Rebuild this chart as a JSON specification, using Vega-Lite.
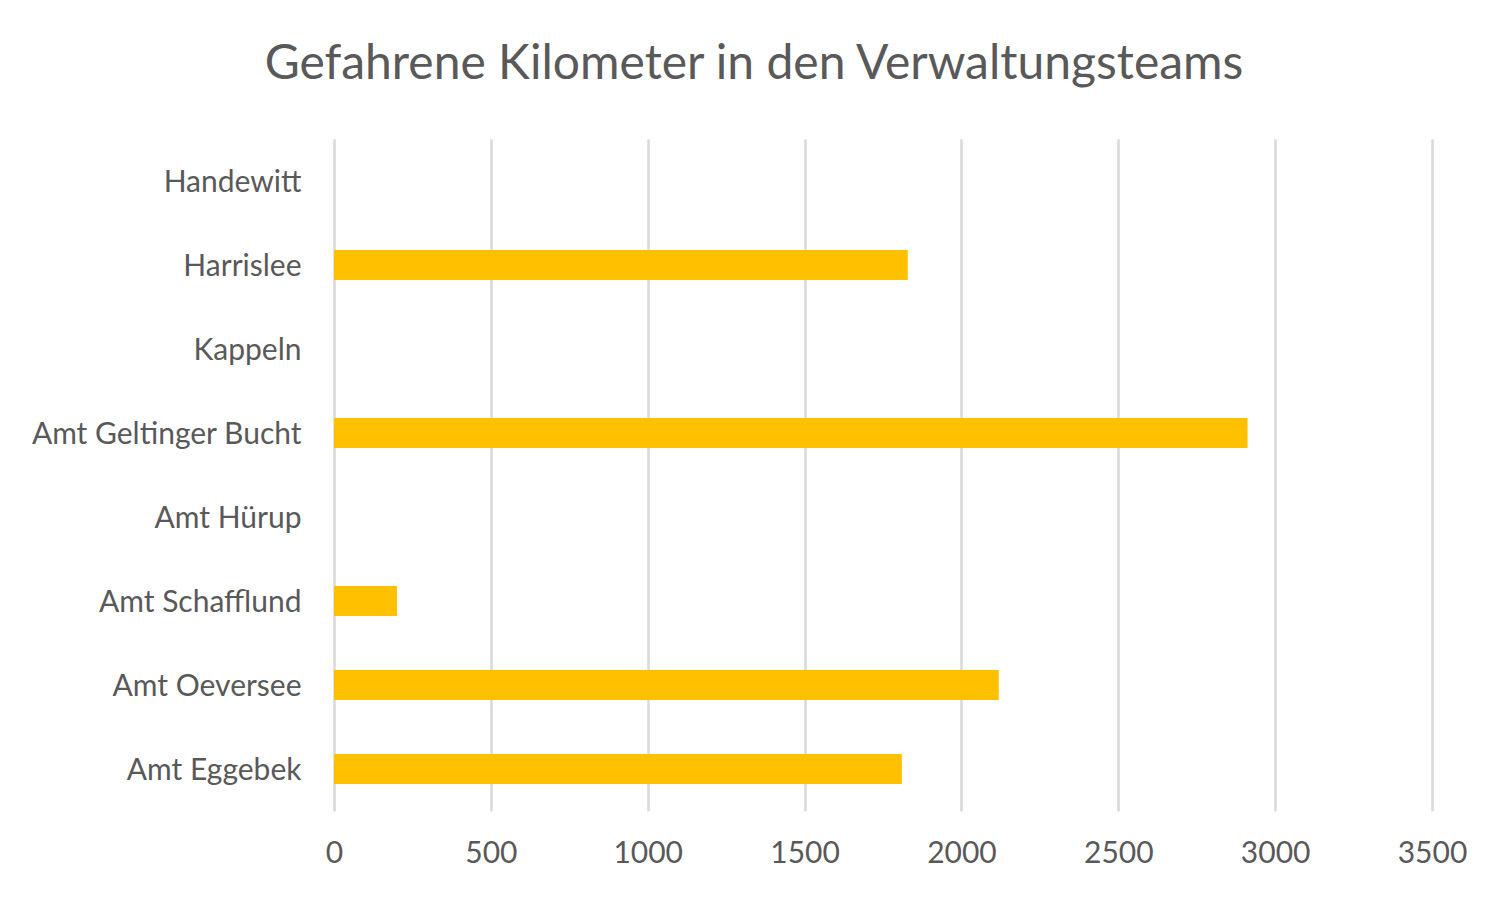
{
  "$schema": "https://vega.github.io/schema/vega-lite/v6.json",
  "autosize": {"type": "none"},
  "padding": {"left": 334, "top": 139, "right": 76, "bottom": 87},
  "width": 1098,
  "height": 672,
  "background": "#ffffff",
  "title": {
    "text": "Gefahrene Kilometer in den Verwaltungsteams",
    "font": "Lato",
    "fontSize": 48,
    "fontWeight": "normal",
    "color": "#595959",
    "anchor": "middle",
    "frame": "group",
    "dx": -129,
    "baseline": "alphabetic",
    "offset": 12
  },
  "data": {
    "values": [
      {"team": "Handewitt", "km": null},
      {"team": "Harrislee", "km": 1829},
      {"team": "Kappeln", "km": null},
      {"team": "Amt Geltinger Bucht", "km": 2912},
      {"team": "Amt Hürup", "km": null},
      {"team": "Amt Schafflund", "km": 201},
      {"team": "Amt Oeversee", "km": 2119},
      {"team": "Amt Eggebek", "km": 1810}
    ]
  },
  "mark": {"type": "bar", "color": "#FFC000"},
  "encoding": {
    "y": {
      "field": "team",
      "type": "nominal",
      "sort": null,
      "scale": {
        "domain": ["Handewitt", "Harrislee", "Kappeln", "Amt Geltinger Bucht", "Amt Hürup", "Amt Schafflund", "Amt Oeversee", "Amt Eggebek"],
        "paddingInner": 0.643,
        "paddingOuter": 0.3215
      },
      "axis": {
        "title": null,
        "domain": false,
        "ticks": false,
        "grid": false,
        "labelFont": "Lato",
        "labelFontSize": 30,
        "labelColor": "#595959",
        "labelPadding": 33,
        "labelLimit": 400,
        "labelOffset": 2
      }
    },
    "x": {
      "field": "km",
      "type": "quantitative",
      "scale": {"domain": [0, 3500], "nice": false},
      "axis": {
        "title": null,
        "values": [0, 500, 1000, 1500, 2000, 2500, 3000, 3500],
        "format": "d",
        "domain": false,
        "ticks": false,
        "grid": true,
        "gridColor": "#d9d9d9",
        "gridWidth": 2.5,
        "labelFont": "Lato",
        "labelFontSize": 30,
        "labelColor": "#595959",
        "labelPadding": 27,
        "labelFlush": false
      }
    }
  },
  "config": {"view": {"stroke": null}}
}
